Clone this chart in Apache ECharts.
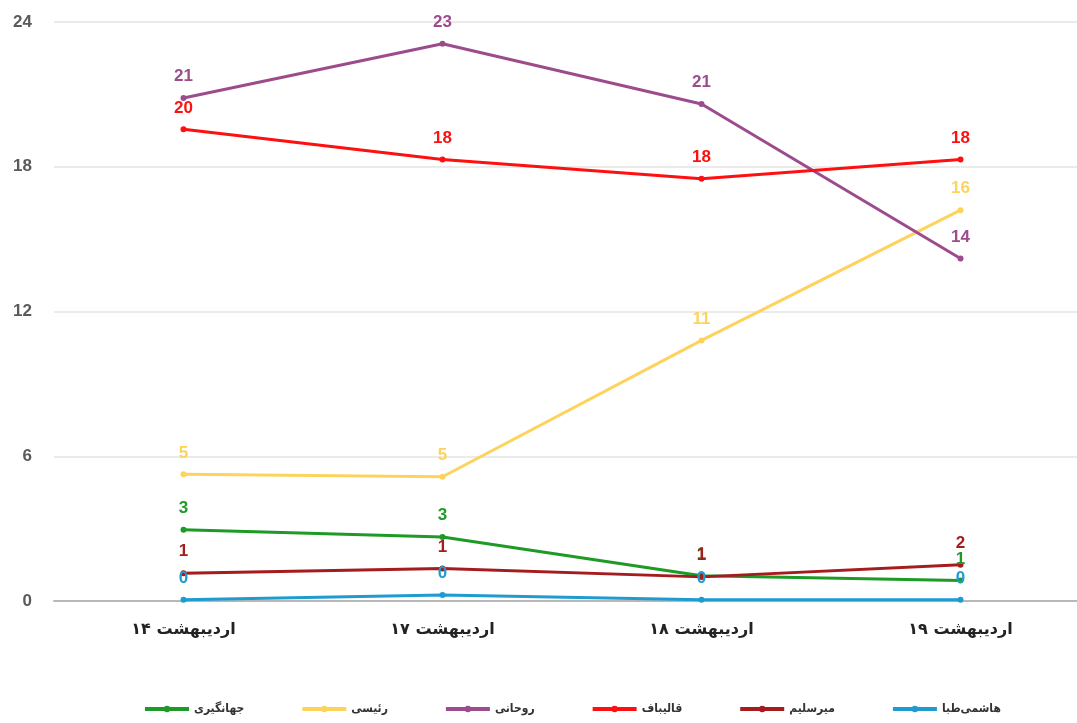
<!DOCTYPE html>
<html>
<head>
<meta charset="utf-8">
<script src="https://cdn.jsdelivr.net/npm/echarts@6/dist/echarts.min.js"></script>
<style>
html,body{margin:0;padding:0;background:#fff;}
#chart{width:1077px;height:723px;}
</style>
</head>
<body>
<div id="chart"></div>
<script>
var categories = ['اردیبهشت ۱۴', 'اردیبهشت ۱۷', 'اردیبهشت ۱۸', 'اردیبهشت ۱۹'];
var jahangiri = [2.95, 2.65, 1.05, 0.85];
var raisi = [5.25, 5.15, 10.8, 16.2];
var rouhani = [20.85, 23.1, 20.6, 14.2];
var ghalibaf = [19.55, 18.3, 17.5, 18.3];
var mirsalim = [1.15, 1.35, 1.0, 1.5];
var hashemitaba = [0.05, 0.25, 0.05, 0.05];
var seriesNames = ['جهانگیری', 'رئیسی', 'روحانی', 'قالیباف', 'میرسلیم', 'هاشمی‌طبا'];
var yTicks = [0, 6, 12, 18, 24];

var colors = ['#1e9a26', '#fdd35c', '#9c4c8c', '#ff1010', '#a51c1f', '#1f9bd0'];
var seriesData = [jahangiri, raisi, rouhani, ghalibaf, mirsalim, hashemitaba];

var font = 'Liberation Sans, Arial, sans-serif';
var series = seriesNames.map(function (name, i) {
  return {
    name: name,
    type: 'line',
    data: seriesData[i],
    color: colors[i],
    symbol: 'circle',
    symbolSize: 6,
    lineStyle: { width: 3, color: colors[i] },
    itemStyle: { color: colors[i] },
    label: {
      show: true,
      position: 'top',
      distance: 10,
      color: colors[i],
      fontFamily: font,
      fontWeight: 'bold',
      fontSize: 17,
      formatter: function (p) { return Math.round(p.value); }
    },
    emphasis: { disabled: true },
    animation: false
  };
});

var chart = echarts.init(document.getElementById('chart'), null, { renderer: 'canvas' });
chart.setOption({
  backgroundColor: '#ffffff',
  animation: false,
  grid: { left: 54, width: 1036, top: 22, bottom: 122, containLabel: false, outerBoundsMode: 'none' },
  legend: {
    bottom: 3,
    left: 138,
    itemWidth: 44,
    itemHeight: 8,
    itemGap: 56,
    lineStyle: { width: 4 },
    textStyle: { fontFamily: 'DejaVu Sans Condensed, DejaVu Sans, sans-serif', fontWeight: 'bold', fontSize: 12, color: '#333' },
    data: seriesNames
  },
  xAxis: {
    type: 'category',
    data: categories,
    boundaryGap: true,
    axisLine: { show: true, lineStyle: { color: '#b8b8b8', width: 2 } },
    axisTick: { show: false },
    axisLabel: { fontFamily: 'DejaVu Sans, sans-serif', fontWeight: 'bold', fontSize: 16, color: '#222', margin: 21 }
  },
  yAxis: {
    type: 'value',
    min: yTicks[0],
    max: yTicks[yTicks.length - 1],
    interval: 6,
    axisLine: { show: false },
    axisTick: { show: false },
    splitLine: { lineStyle: { color: '#e4e4e4', width: 1.5 } },
    axisLabel: { fontFamily: font, fontWeight: 'bold', fontSize: 17, color: '#5a5a5a', margin: 22 }
  },
  series: series
});
</script>
</body>
</html>
